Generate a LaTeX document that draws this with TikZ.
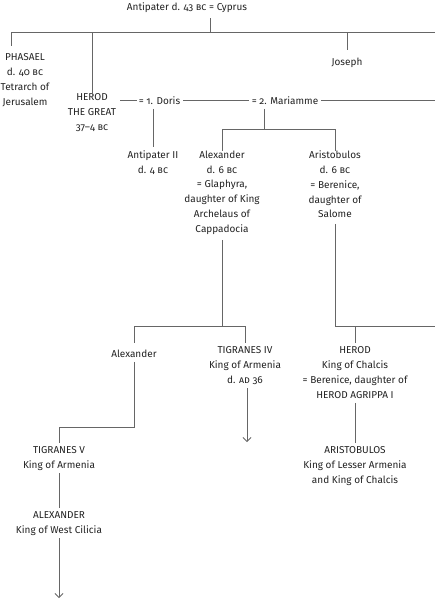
\documentclass[tikz,border=0pt]{standalone}
\usepackage{fontspec}
\setmainfont{Fira Sans}[Numbers=OldStyle]
\usetikzlibrary{arrows.meta}
\definecolor{ln}{HTML}{666666}
\definecolor{tx}{HTML}{222222}
\begin{document}
\begin{tikzpicture}[x=1pt,y=-1pt,
  lbl/.style={align=center, inner sep=0pt, anchor=north, text=tx,
    font=\fontsize{10}{14.8}\selectfont, execute at begin node=\strut},
  link/.style={draw=ln, line width=0.8pt},
  arr/.style={link, -{Straight Barb[length=4pt,width=8pt]}}]
\useasboundingbox (0,0) rectangle (435,600);

% people
\node[lbl] (ant) at (187,0.2) {Antipater d. 43 \textsc{bc} = Cyprus};
\node[lbl] (phasael) at (25,53.6) {PHASAEL\\d. 40 \textsc{bc}\\Tetrarch of\\Jerusalem};
\node[lbl] (joseph) at (347,54.6) {Joseph};
\node[lbl] (herod) at (92,93.6) {HEROD\\THE GREAT\\37--4 \textsc{bc}};
\node[lbl] (doris) at (159.5,93.6) {= 1. Doris};
\node[lbl] (mariamme) at (285,93.6) {= 2. Mariamme};
\node[lbl] (antII) at (153,150.6) {Antipater II\\d. 4 \textsc{bc}};
\node[lbl] (alexA) at (222,150.6) {Alexander\\d. 6 \textsc{bc}\\= Glaphyra,\\daughter of King\\Archelaus of\\Cappadocia};
\node[lbl] (aristA) at (335,150.6) {Aristobulos\\d. 6 \textsc{bc}\\= Berenice,\\daughter of\\Salome};
\node[lbl] (alexB) at (134,346.6) {Alexander};
\node[lbl] (tig4) at (245,346.6) {TIGRANES IV\\King of Armenia\\d. \textsc{ad} 36};
\node[lbl] (herodC) at (355,346.6) {HEROD\\King of Chalcis\\= Berenice, daughter of\\HEROD AGRIPPA I};
\node[lbl] (tig5) at (59,446.6) {TIGRANES V\\King of Armenia};
\node[lbl] (aristB) at (355,446.6) {ARISTOBULOS\\King of Lesser Armenia\\and King of Chalcis};
\node[lbl] (alexC) at (59,511.6) {ALEXANDER\\King of West Cilicia};

% junctions
\coordinate (j0) at (210,32);
\coordinate (jPh) at (11,32);
\coordinate (r1) at (435,32);
\coordinate (hm) at (120,100);
\coordinate (r2) at (435,100);
\coordinate (jm) at (264,129);
\coordinate (j3) at (0,326);
\coordinate (r3) at (435,326);
\coordinate (k) at (134,427);
\coordinate (a1) at (247,442);
\coordinate (a2) at (59,598);

% generation 1
\draw[link, shorten <=3pt] (ant.south -| j0) -- (j0);
\draw[link] (jPh) -- (r1);
\draw[link] (jPh) -- ([yshift=7.6pt]phasael.north -| jPh);
\draw[link] (herod.north |- j0) -- ([yshift=-3pt]herod.north);
\draw[link] (joseph.north |- j0) -- ([yshift=4.6pt]joseph.north);

% marriages
\draw[link] (hm) -- ([xshift=-2pt]doris.west |- hm);
\draw[link] ([xshift=3pt]doris.east |- hm) -- ([xshift=-3pt]mariamme.west |- hm);
\draw[link] ([xshift=3pt]mariamme.east |- hm) -- (r2);

% children of Herod
\draw[link] (doris.south -| antII.north) -- ([yshift=3.6pt]antII.north);
\draw[link] (mariamme.south -| jm) -- (jm);
\draw[link] (alexA.north |- jm) -- (aristA.north |- jm);
\draw[link] (alexA.north |- jm) -- (alexA.north);
\draw[link] (aristA.north |- jm) -- (aristA.north);

% next generation
\draw[link] ([yshift=-3pt]alexA.south) -- (alexA.south |- j3);
\draw[link] (alexB.north |- j3) -- (tig4.north |- j3);
\draw[link] (alexB.north |- j3) -- ([yshift=3.6pt]alexB.north);
\draw[link] (tig4.north |- j3) -- ([yshift=3.6pt]tig4.north);
\draw[link] ([yshift=-1.5pt]aristA.south) -- (aristA.south |- j3) -- (r3);
\draw[link] (herodC.north |- j3) -- ([yshift=3.6pt]herodC.north);

\draw[arr] (tig4.south -| a1) -- (a1);
\draw[link] (herodC.south) -- ([yshift=3.6pt]aristB.north);
\draw[link] (alexB.south) -- (alexB.south |- k) -- (tig5.north |- k) -- ([yshift=3.6pt]tig5.north);
\draw[link] (tig5.south) -- ([yshift=3.6pt]alexC.north);
\draw[arr] (alexC.south) -- (a2);
\end{tikzpicture}
\end{document}
